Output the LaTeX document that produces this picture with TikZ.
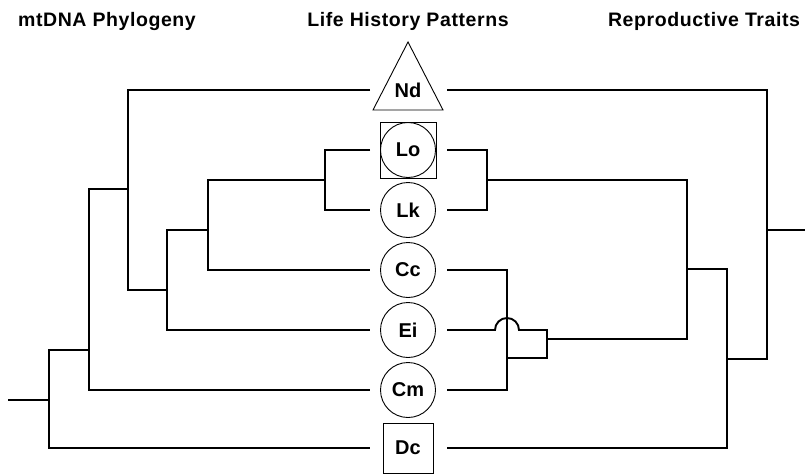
\documentclass[tikz,border=0pt]{standalone}
\usepackage{fontspec}
\setmainfont{Liberation Sans}
\usetikzlibrary{positioning}

\begin{document}
\begin{tikzpicture}[x=1pt, y=-1pt,
      head/.style={font=\bfseries\fontsize{19.5}{21}\selectfont\addfontfeature{LetterSpace=3}, anchor=base},
      taxon/.style={draw, line width=0.9pt, inner sep=0pt,
                    font=\bfseries\fontsize{20}{22}\selectfont},
      circ/.style={taxon, circle, minimum size=55pt},
      sq/.style={taxon, rectangle, minimum size=#1},
      branch/.style={line width=1.9pt}]
    \useasboundingbox (0,0) rectangle (805,474);

    % column headings
    \node[head] (h-mt) at (107,26) {mtDNA Phylogeny};
    \node[head] (h-lh) at (408,26) {Life History Patterns};
    \node[head] (h-rt) at (704,26) {Reproductive Traits};

    % taxa
    \node[font=\bfseries\fontsize{20}{22}\selectfont] (nd) at (408,90) {Nd};
    \draw[line width=0.9pt] (nd.center) ++(-35,20) -- ++(35,-68) -- ++(35,68) -- cycle;
    \node[sq=56pt] (lo-box) at (408,150) {};
    \node[circ] (lo) at (lo-box) {Lo};
    \node[circ] (lk) at (408,210) {Lk};
    \node[circ] (cc) at (408,270) {Cc};
    \node[circ] (ei) at (408,330) {Ei};
    \node[circ] (cm) at (408,390) {Cm};
    \node[sq=50pt] (dc) at (408,448) {Dc};

    \foreach \t in {nd,lo,lk,cc,ei,cm,dc} {
      \coordinate (\t-w) at ([xshift=-38pt]\t.center);
      \coordinate (\t-e) at ([xshift=39pt]\t.center);
    }

    % mtDNA tree
    \coordinate (mt0) at (8,400);
    \coordinate (mt1) at (325,180);
    \coordinate (mt2) at (208,230);
    \coordinate (mt3) at (167,290);
    \coordinate (mt4) at (128,189);
    \coordinate (mt5) at (89,350);
    \coordinate (mt6) at (49,400);
    \draw[branch] (lo-w) -| (mt1) |- (lk-w);
    \draw[branch] (mt1) -| (mt2) |- (cc-w);
    \draw[branch] (mt2) -| (mt3) |- (ei-w);
    \draw[branch] (nd-w) -| (mt4) |- (mt3);
    \draw[branch] (mt4) -| (mt5) |- (cm-w);
    \draw[branch] (mt5) -| (mt6) |- (dc-w);
    \draw[branch] (mt6) -- (mt0);

    % reproductive traits tree
    \coordinate (rt0) at (805,230);
    \coordinate (rt1) at (487,180);
    \coordinate (rt2) at (507,358);
    \coordinate (rt3) at (547,339);
    \coordinate (rt4) at (687,269);
    \coordinate (rt5) at (727,359);
    \coordinate (rt6) at (767,230);
    \draw[branch] (lo-e) -| (rt1) |- (lk-e);
    \draw[branch] (cc-e) -| (rt2) |- (cm-e);
    \draw[branch] (ei-e) -- ++(48,0) arc[start angle=180, end angle=0, radius=12pt]
      -- ++(28,0) |- (rt2);
    \draw[branch] (rt1) -| (rt4) |- (rt3);
    \draw[branch] (rt4) -| (rt5) |- (dc-e);
    \draw[branch] (nd-e) -| (rt6) |- (rt5);
    \draw[branch] (rt6) -- (rt0);
\end{tikzpicture}
\end{document}
